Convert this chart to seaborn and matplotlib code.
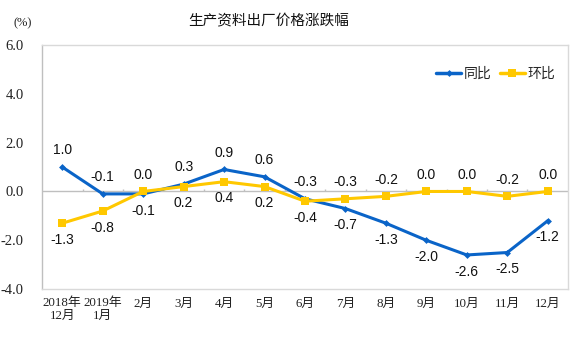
import numpy as np
import pandas as pd
import matplotlib
matplotlib.use("Agg")
import matplotlib.pyplot as plt
import seaborn as sns

categories = ["2018年\n12月", "2019年\n1月", "2月", "3月", "4月", "5月", "6月",
              "7月", "8月", "9月", "10月", "11月", "12月"]
yoy = [1.0, -0.1, -0.1, 0.3, 0.9, 0.6, -0.3, -0.7, -1.3, -2.0, -2.6, -2.5, -1.2]
mom = [-1.3, -0.8, 0.0, 0.2, 0.4, 0.2, -0.4, -0.3, -0.2, 0.0, 0.0, -0.2, 0.0]
series_names = ["同比", "环比"]
yticks = [-4.0, -2.0, 0.0, 2.0, 4.0, 6.0]

sns.set_theme(style="white")
plt.rcParams['font.family'] = ['Noto Sans CJK SC', 'DejaVu Sans']

df = pd.DataFrame({
    "idx": list(range(len(categories))) * 2,
    "value": yoy + mom,
    "series": [series_names[0]] * len(yoy) + [series_names[1]] * len(mom),
})

fig = plt.figure(figsize=(5.76, 3.43), dpi=100)
ax = fig.add_axes([0.073, 0.157, 0.913, 0.712])

blue = "#0A64C8"
yellow = "#FFC800"
sns.lineplot(data=df, x="idx", y="value", hue="series", style="series",
             markers={"同比": "D", "环比": "s"}, dashes=False,
             palette={"同比": blue, "环比": yellow}, linewidth=2.2,
             markersize=5, markeredgewidth=0, ax=ax)
for line in ax.lines:
    if line.get_marker() == "D":
        line.set_markersize(3.5)
    elif line.get_marker() == "s":
        line.set_markersize(6)

ax.set_xlim(-0.5, len(categories) - 0.5)
ax.set_ylim(-4.0, 6.0)
ax.axhline(0, color="#BFBFBF", linewidth=1, zorder=0)
ax.vlines(np.arange(0.5, len(categories) - 1), 0, 0.12, color="#BFBFBF", linewidth=1, zorder=0)

ax.set_yticks(yticks)
ax.set_yticklabels([f"{v:.1f}" for v in yticks], family=["Liberation Serif", "Noto Sans CJK SC"], fontsize=10.5)
ax.set_xticks(range(len(categories)))
ax.set_xticklabels(categories, family=["Liberation Serif", "Noto Sans CJK SC"], fontsize=9.3, linespacing=1.1)
ax.tick_params(axis="both", length=0, colors="#222222")
ax.tick_params(axis="x", pad=6)
ax.tick_params(axis="y", pad=13)
ax.set_xlabel("")
ax.set_ylabel("")
for s in ax.spines.values():
    s.set_color("#D9D9D9")
    s.set_linewidth(1)
ax.spines["left"].set_color("#BFBFBF")

for i in range(len(categories)):
    for vals, other in ((yoy, mom), (mom, yoy)):
        v = vals[i]
        above = v >= other[i] if vals is yoy else v > other[i]
        ax.annotate(f"{v:.1f}", (i, v), xytext=(0, 7 if above else -7),
                    textcoords="offset points", ha="center",
                    va="bottom" if above else "top", fontsize=10,
                    family=["Liberation Sans", "Noto Sans CJK SC"], color="#111111")

leg = ax.legend(loc="upper right", bbox_to_anchor=(1.0, 0.96), ncol=2, frameon=False,
                fontsize=10, handlelength=1.8, columnspacing=0.6, handletextpad=0.2)
for h in leg.legend_handles:
    h.set_linewidth(2.5)

fig.text(0.467, 0.937, "生产资料出厂价格涨跌幅", ha="center", va="center", fontsize=10.5, color="#111111")
fig.text(0.04, 0.932, "(%)", ha="center", va="center", fontsize=9,
         family=["Liberation Serif", "Noto Sans CJK SC"], color="#222222")

fig.savefig("out.png", dpi=100)
